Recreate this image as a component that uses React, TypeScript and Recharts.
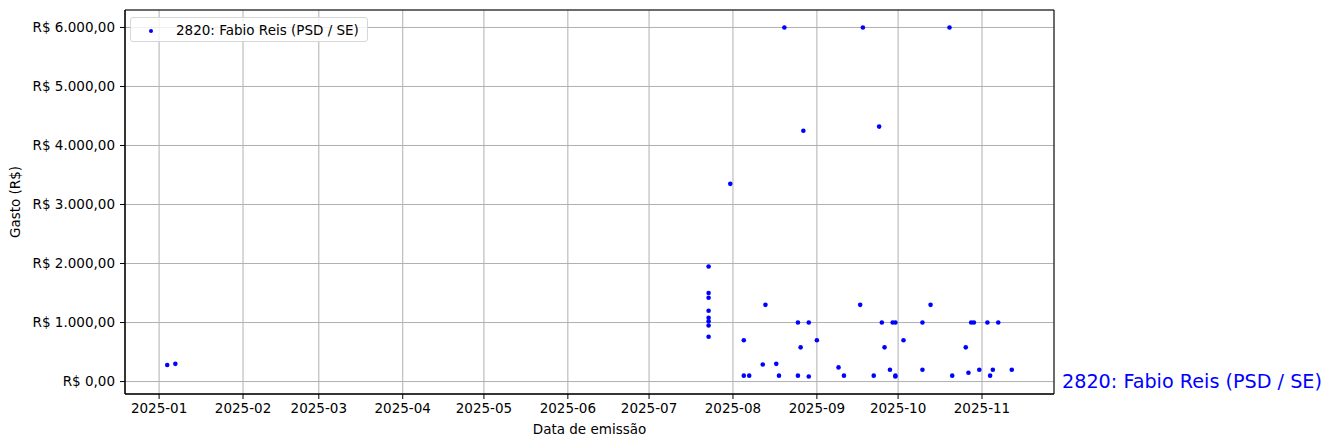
import React from "react";
import {
  ScatterChart,
  Scatter,
  XAxis,
  YAxis,
  CartesianGrid,
  ReferenceArea,
  ReferenceDot,
} from "recharts";

// gastos do deputado
const SERIES_NAME = "2820: Fabio Reis (PSD / SE)";

const dates = [
  "2025-01-04", "2025-01-07",
  "2025-07-23", "2025-07-23", "2025-07-23", "2025-07-23",
  "2025-07-23", "2025-07-23", "2025-07-23", "2025-07-23",
  "2025-07-31",
  "2025-08-05", "2025-08-05", "2025-08-07", "2025-08-12", "2025-08-13",
  "2025-08-17", "2025-08-18", "2025-08-20", "2025-08-25", "2025-08-25",
  "2025-08-26", "2025-08-27", "2025-08-29", "2025-08-29",
  "2025-09-01", "2025-09-09", "2025-09-11", "2025-09-17", "2025-09-18",
  "2025-09-22", "2025-09-24", "2025-09-25", "2025-09-26", "2025-09-28",
  "2025-09-29", "2025-09-30", "2025-09-30", "2025-09-30",
  "2025-10-03", "2025-10-10", "2025-10-10", "2025-10-13", "2025-10-20",
  "2025-10-21", "2025-10-26", "2025-10-27", "2025-10-28", "2025-10-29",
  "2025-10-31",
  "2025-11-03", "2025-11-04", "2025-11-05", "2025-11-07", "2025-11-12",
];

const values = [
  280, 300,
  1950, 1500, 1420, 1200,
  1080, 1020, 950, 760,
  3350,
  100, 700, 100, 290, 1300,
  300, 100, 6000, 1000, 100,
  580, 4250, 85, 1000,
  700, 240, 100, 1300, 6000,
  100, 4320, 1000, 580, 200,
  1000, 100, 1000, 85,
  700, 1000, 200, 1300, 6000,
  100, 580, 150, 1000, 1000,
  200,
  1000, 100, 200, 1000, 200,
];

const monthTicks = [
  "2025-01", "2025-02", "2025-03", "2025-04", "2025-05", "2025-06",
  "2025-07", "2025-08", "2025-09", "2025-10", "2025-11",
];

const DAY = 86400000;
const T0 = Date.parse("2025-01-01");
const toDay = (s: string) => (Date.parse(s) - T0) / DAY;

const data = dates.map((d, i) => ({ day: toDay(d), value: values[i] }));

// margem de 5% como no autoscale do matplotlib
const pad = (lo: number, hi: number): [number, number] => {
  const m = (hi - lo) * 0.05;
  return [lo - m, hi + m];
};
const xDomain = pad(Math.min(...data.map((d) => d.day)), Math.max(...data.map((d) => d.day)));
const yDomain = pad(Math.min(...values), Math.max(...values));

const xTicks = monthTicks.map((m) => toDay(m + "-01"));
const tickLabel = new Map(xTicks.map((t, i) => [t, monthTicks[i]]));

const fmtBRL = (v: number) => {
  const [int, dec] = Math.abs(v).toFixed(2).split(".");
  const grouped = int.replace(/\B(?=(\d{3})+(?!\d))/g, ".");
  return `R$ ${v < 0 ? "-" : ""}${grouped},${dec}`;
};

const FONT = "'DejaVu Sans', sans-serif";
const BLUE = "#0000ff";
const tickStyle = { fill: "#000", fontSize: 13.5, fontFamily: FONT };

const Dot = (props: any) => <circle cx={props.cx} cy={props.cy} r={2.3} fill={BLUE} />;

export default function App() {
  return (
    <div style={{ position: "absolute", left: 0, top: 0, width: 1335, height: 448, background: "#fff", fontFamily: FONT }}>
      <ScatterChart width={1335} height={448} margin={{ top: 10, right: 281, bottom: 0, left: 8 }}>
        <XAxis
          type="number"
          dataKey="day"
          domain={xDomain}
          ticks={xTicks}
          tickFormatter={(t: number) => tickLabel.get(t) ?? ""}
          height={54}
          tick={tickStyle}
          tickSize={5}
          tickMargin={4}
          stroke="#000"
          allowDataOverflow
          label={{ value: "Data de emissão", position: "insideBottom", offset: 14, style: { ...tickStyle, textAnchor: "middle" } }}
        />
        <YAxis
          type="number"
          dataKey="value"
          domain={yDomain}
          ticks={[0, 1000, 2000, 3000, 4000, 5000, 6000]}
          tickFormatter={fmtBRL}
          width={117}
          tick={tickStyle}
          tickSize={5}
          tickMargin={5}
          stroke="#000"
          allowDataOverflow
          label={{ value: "Gasto (R$)", angle: -90, position: "insideLeft", offset: 7, style: { ...tickStyle, textAnchor: "middle" } }}
        />
        <Scatter name={SERIES_NAME} data={data} fill={BLUE} shape={Dot} isAnimationActive={false} />
        <CartesianGrid stroke="#b0b0b0" strokeWidth={1} />
        <ReferenceArea
          x1={xDomain[0]}
          x2={xDomain[1]}
          y1={yDomain[0]}
          y2={yDomain[1]}
          fill="none"
          fillOpacity={0}
          stroke="#000"
          strokeWidth={1}
          ifOverflow="visible"
        />
        <ReferenceDot
          x={xDomain[1]}
          y={0}
          r={0}
          ifOverflow="visible"
          label={{ value: SERIES_NAME, position: "right", offset: 8, fill: BLUE, fontSize: 19.2, fontFamily: FONT }}
        />
      </ScatterChart>
      {/* legenda no canto superior esquerdo, como no matplotlib */}
      <div
        style={{
          position: "absolute",
          left: 130,
          top: 17,
          width: 236,
          height: 23,
          border: "1px solid #d6d6d6",
          borderRadius: 3,
          background: "rgba(255,255,255,0.8)",
          display: "flex",
          alignItems: "center",
          fontSize: 13.5,
          color: "#000",
        }}
      >
        <span style={{ position: "absolute", left: 18, top: 11, width: 4, height: 4, borderRadius: 2, background: BLUE }} />
        <span style={{ position: "absolute", left: 45, whiteSpace: "nowrap" }}>{SERIES_NAME}</span>
      </div>
    </div>
  );
}
